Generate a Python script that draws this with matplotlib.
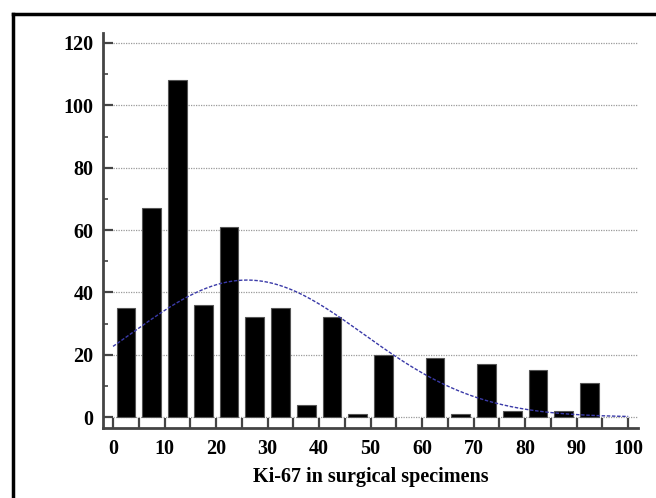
import numpy as np
import matplotlib
matplotlib.use("Agg")
import matplotlib.pyplot as plt
from matplotlib.ticker import MultipleLocator

# Data: histogram of Ki-67 (bins of width 5)
bin_starts = [0, 5, 10, 15, 20, 25, 30, 35, 40, 45, 50, 55, 60, 65, 70, 75, 80, 85, 90, 95]
counts = [35, 67, 108, 36, 61, 32, 35, 4, 32, 1, 20, 0, 19, 1, 17, 2, 15, 2, 11, 0]
bin_width = 5
# fitted normal curve parameters
fit_mean = 26.0
fit_sd = 22.6
x_ticks = [0, 10, 20, 30, 40, 50, 60, 70, 80, 90, 100]
y_ticks = [0, 20, 40, 60, 80, 100, 120]
x_label = "Ki-67 in surgical specimens"

plt.rcParams['font.family'] = ['Liberation Serif', 'DejaVu Serif']
plt.rcParams['font.weight'] = 'bold'

fig = plt.figure(figsize=(6.56, 4.98), dpi=100)
ax = fig.add_axes([103/656, 1-428/498, (638-103)/656, (428-33)/498])

# outer frame (top and left edges visible)
fig.add_artist(plt.Line2D([13/656, 1.0], [1-14/498, 1-14/498], color='black', lw=2.5, transform=fig.transFigure))
fig.add_artist(plt.Line2D([13/656, 13/656], [0.0, 1-14/498], color='black', lw=2.5, transform=fig.transFigure))

xmin, xmax = -1.95, 101.9
ymin, ymax = -3.5, 123.2
ax.set_xlim(xmin, xmax)
ax.set_ylim(ymin, ymax)

# grid lines
ax.hlines(y_ticks, 0, 101.7, colors='#9a9a9a', linestyles=(0, (1, 1)), lw=0.9, zorder=1)

centers = [b + bin_width / 2 for b in bin_starts]
edge_w = [0.8 if c > 0 else 0 for c in counts]
ax.bar(centers, counts, width=3.65, color='black', edgecolor='#555555', linewidth=edge_w, zorder=2)

xs = np.linspace(0, 100, 300)
total = sum(counts)
ys = total * bin_width / (fit_sd * np.sqrt(2 * np.pi)) * np.exp(-0.5 * ((xs - fit_mean) / fit_sd) ** 2)
ax.plot(xs, ys, color='#3a3aa8', lw=1.0, linestyle=(0, (2.5, 1.2)), zorder=3)

for s in ['top', 'right']:
    ax.spines[s].set_visible(False)
for s in ['left', 'bottom']:
    ax.spines[s].set_color('#444444')
    ax.spines[s].set_linewidth(2.0)

fs = 14.5
ax.set_xticks(x_ticks)
ax.xaxis.set_minor_locator(MultipleLocator(5))
ax.set_yticks(y_ticks)
ax.yaxis.set_minor_locator(MultipleLocator(10))
ax.tick_params(axis='x', which='both', direction='in', length=7, width=1.6, color='#444444',
               labelsize=fs, pad=8)
ax.tick_params(axis='y', which='major', direction='in', length=7.5, width=1.6, color='#444444',
               labelsize=fs, pad=7)
ax.tick_params(axis='y', which='minor', direction='in', length=3.5, width=1.2, color='#444444')
for lab in ax.get_xticklabels() + ax.get_yticklabels():
    lab.set_fontweight('bold')

ax.set_xlabel(x_label, fontsize=fs, fontweight='bold', labelpad=6)

fig.savefig('out.png', dpi=100)
